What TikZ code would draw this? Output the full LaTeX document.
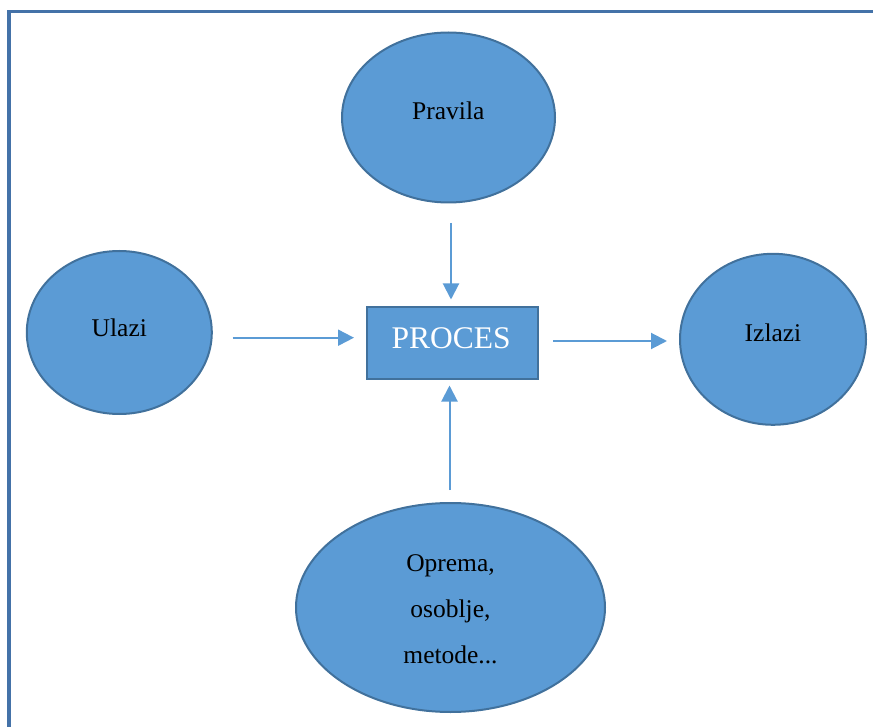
\documentclass[tikz,border=0pt]{standalone}
\usepackage{fontspec}
\setmainfont{Liberation Serif}
\usetikzlibrary{arrows.meta,shapes.geometric}
\definecolor{fillblue}{HTML}{5B9BD5}
\definecolor{edgeblue}{HTML}{41719C}
\definecolor{frameblue}{HTML}{4472A8}
\begin{document}
\begin{tikzpicture}[x=1pt,y=-1pt,
  blob/.style={ellipse,fill=fillblue,draw=edgeblue,line width=2pt,inner sep=0pt},
  procbox/.style={rectangle,fill=fillblue,draw=edgeblue,line width=2.5pt,inner sep=0pt},
  lbl/.style={anchor=base,font=\fontsize{25.5}{30}\selectfont,text=black,inner sep=0pt},
  conn/.style={draw=fillblue,line width=2pt,-{Triangle[length=16pt,width=16pt]}}]
\useasboundingbox (0,0) rectangle (873,727);
\begin{scope}
\clip (0,0) rectangle (873,727);
\draw[frameblue,line width=3.2pt] (9,11.5) rectangle (890,745);
\end{scope}
% shapes
\node[blob,minimum width=213pt,minimum height=170pt] (pravila) at (448.5,117.5) {};
\node[blob,minimum width=185pt,minimum height=163pt] (ulazi) at (119.3,332.5) {};
\node[blob,minimum width=186pt,minimum height=171pt] (izlazi) at (773,339.3) {};
\node[blob,minimum width=309pt,minimum height=209pt] (oprema) at (450.5,607.5) {};
\node[procbox,minimum width=171pt,minimum height=72pt] (proces) at (452.5,343) {};
% texts
\node[lbl] (tpravila) at (448.3,120) {Pravila};
\node[lbl] (tulazi) at (119.3,336.5) {Ulazi};
\node[lbl] (tizlazi) at (773,341.7) {Izlazi};
\node[lbl,text=white,font=\fontsize{31.5}{36}\selectfont] (tproces) at (451.2,348.3) {PROCES};
\node[lbl] (top1) at (450.5,571) {Oprema,};
\node[lbl] (top2) at (450.5,617) {osoblje,};
\node[lbl] (top3) at (450.5,663) {metode...};
% connector ends
\coordinate (a1) at (451,223);
\coordinate (a2) at (451,299.5);
\coordinate (b1) at (232.7,337.7);
\coordinate (b2) at (354,337.7);
\coordinate (c1) at (553,341);
\coordinate (c2) at (667,341);
\coordinate (d1) at (449.5,490);
\coordinate (d2) at (449.5,385.5);
\draw[conn] (a1) -- (a2);
\draw[conn] (b1) -- (b2);
\draw[conn] (c1) -- (c2);
\draw[conn] (d1) -- (d2);
\end{tikzpicture}
\end{document}
